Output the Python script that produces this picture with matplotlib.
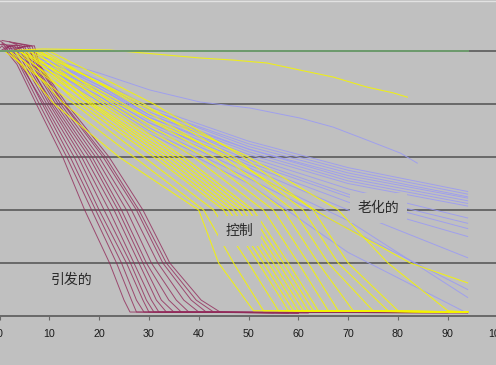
import matplotlib
matplotlib.use("Agg")
import matplotlib.pyplot as plt

# ---------------- data ----------------
x_ticks = [0, 10, 20, 30, 40, 50, 60, 70, 80, 90, 100]
grid_levels = [20, 40, 60, 80, 100]

# induced (maroon): x at shared y-levels, last value = end of bottom tail
induced_y = [102, 95, 80, 60, 40, 20, 6, 1.5, 1.2]
induced_x = [
    [0.5, 3.5, 7.4, 12.7, 17.1, 22.1, 25.0, 26.2, 60],
    [1.0, 4.0, 8.0, 13.5, 18.5, 23.5, 26.5, 27.5, 58],
    [2.0, 4.5, 8.6, 14.2, 19.3, 24.5, 27.5, 29.0, 62],
    [1.5, 4.2, 9.0, 15.0, 20.0, 25.5, 28.8, 30.0, 55],
    [3.0, 5.0, 9.5, 15.8, 21.0, 26.3, 29.5, 31.0, 60],
    [2.5, 5.5, 10.0, 16.5, 22.0, 27.0, 30.5, 32.0, 94],
    [4.0, 6.0, 10.4, 17.2, 23.0, 28.0, 31.5, 33.5, 60],
    [3.5, 5.8, 10.8, 18.0, 23.8, 28.8, 32.5, 35.0, 58],
    [5.0, 6.5, 11.3, 18.6, 24.5, 29.5, 34.0, 36.5, 62],
    [4.5, 6.8, 11.8, 19.3, 25.5, 30.5, 35.5, 38.0, 60],
    [6.0, 7.0, 12.3, 20.0, 26.5, 31.8, 37.0, 40.0, 94],
    [5.5, 7.5, 12.8, 20.8, 27.5, 32.8, 38.5, 41.5, 60],
    [7.0, 8.0, 13.5, 22.0, 28.8, 34.2, 40.5, 44.3, 60],
    [6.5, 7.8, 13.0, 21.3, 28.0, 33.5, 39.5, 43.0, 90],
]
# starting wiggle of each induced line (x, y) before the shared levels
induced_start_x = [0, 0.5, 1, 0, 1.5, 0.5, 2, 1, 2.5, 0, 3, 1.5, 2, 0.5]
induced_start_y = [101, 103, 100, 104, 102, 100.5, 103.5, 101.5, 100, 102.5, 103, 99.5, 101, 104]

# control (yellow): x at shared y-levels, tail to x=94
control_y = [100, 80, 60, 40, 20, 2, 1.5]
control_x = [
    [2, 11, 24, 40, 44, 51, 94],
    [3, 13, 27, 41, 47, 53, 94],
    [1, 15, 29, 43, 50, 56, 94],
    [4, 16, 31, 45, 52, 58, 94],
    [2, 17, 32, 46, 53, 59, 94],
    [5, 18, 33, 47, 54, 60, 94],
    [3, 18.5, 34, 48, 55, 61, 94],
    [6, 19, 35, 49, 56, 62, 94],
    [4, 20, 36, 50, 57, 63, 94],
    [7, 21, 37, 51, 58, 64, 94],
    [5, 22, 39, 53, 60, 66, 94],
    [8, 23, 41, 55, 62, 68, 94],
    [6, 25, 43, 57, 64, 71, 94],
    [9, 27, 45, 59, 66, 75, 94],
    [7, 29, 47, 61, 68, 78, 94],
    [10, 31, 49, 63, 70, 80, 94],
    [8, 28, 50, 68, 78, 90, 94],
]
control_long_x = [4, 24, 46, 66, 82.5, 94]
control_long_y = [100, 80, 60, 37, 20, 12.5]
control_top_x = [0, 8.7, 22.1, 33.6, 40.2, 46.9, 53.7, 60.4, 67, 73.8, 79.1, 81.9]
control_top_y = [100, 100.8, 100.4, 98.5, 97.4, 96.6, 95.5, 92.8, 90.2, 86.4, 84.2, 82.6]

# aged (lavender): y at shared x-positions
aged_x = [2, 10, 20, 30, 50, 70, 94]
aged_y = [
    [100, 97, 89, 79, 66, 56, 47],
    [100, 97, 88, 78, 65, 55, 46],
    [101, 96, 88, 78, 64, 54, 45],
    [100, 96, 87, 77, 63, 53, 44.5],
    [99, 96, 87, 76, 63, 52, 43.5],
    [100, 95, 86, 76, 62, 51, 42.5],
    [100, 95, 86, 75, 61, 50, 41.5],
    [99, 95, 85, 75, 60, 48, 37],
    [100, 94, 85, 74, 59, 46, 35],
    [100, 94, 84, 73, 58, 45, 33],
    [99, 94, 84, 73, 57, 43, 30],
    [100, 93, 83, 72, 56, 40, 22],
    [100, 93, 83, 71, 54, 36, 7],
    [99, 93, 82, 70, 52, 33, 10],
    [100, 92, 81, 69, 50, 24, 1],
]
aged_top_x = [0, 6.7, 20, 30.2, 40.2, 50.3, 60.4, 67, 73.8, 80.5, 83.9]
aged_top_y = [100, 99, 91.7, 85.3, 80.8, 78.5, 74.7, 71.3, 66.4, 61.5, 57.7]

green_x = [0, 94]
green_y = [100, 100]

labels = [("老化的", 76.1, 40.8), ("控制", 48.1, 32.1), ("引发的", 14.5, 13.6)]

# ---------------- drawing ----------------
BG = "#C0C0C0"
W, H = 496, 365
fig = plt.figure(figsize=(W / 100, H / 100), dpi=100, facecolor=BG)
ax = fig.add_axes([-0.5 / W, (H - 316) / H, 498 / W, (316 - 1) / H])
ax.set_facecolor(BG)
ax.set_xlim(0, 100)
ax.set_ylim(0, 118.9)

for g in grid_levels:
    ax.axhline(g, color="#686868", lw=1.4, zorder=1)

lav = "#9C9CF2"
for ys in aged_y:
    ax.plot(aged_x, ys, color=lav, lw=0.7, alpha=0.9, zorder=2)
ax.plot(aged_top_x, aged_top_y, color=lav, lw=0.7, alpha=0.9, zorder=2)

mar = "#922A5A"
for xs, sx, sy in zip(induced_x, induced_start_x, induced_start_y):
    ax.plot([sx] + xs, [sy] + induced_y, color=mar, lw=0.7, alpha=0.8, zorder=3)

yel = "#F5F500"
for xs in control_x:
    ax.plot(xs, control_y, color=yel, lw=0.8, alpha=0.85, zorder=4)
ax.plot(control_long_x, control_long_y, color=yel, lw=0.8, alpha=0.85, zorder=4)
ax.plot(control_top_x, control_top_y, color=yel, lw=0.8, alpha=0.85, zorder=4)

ax.plot(green_x, green_y, color="#6E9C6E", lw=1.4, zorder=5)

for txt, x, y in labels:
    ax.text(x, y, txt, fontsize=10, color="#2a2a2a", ha="center", va="center",
            family=["Noto Sans CJK SC", "DejaVu Sans"], zorder=6,
            bbox=dict(boxstyle="square,pad=0.55", fc=BG, ec="none"))

for s in ["left", "right"]:
    ax.spines[s].set_visible(False)
ax.spines["top"].set_color("#E2E2E2")
ax.spines["top"].set_linewidth(1.0)
ax.spines["bottom"].set_color("#686868")
ax.spines["bottom"].set_linewidth(1.4)
ax.set_yticks([])
ax.set_xticks(x_ticks)
ax.set_xticklabels([str(t) for t in x_ticks])
ax.tick_params(axis="x", direction="out", length=3, width=0.8, color="#686868",
               labelsize=7.7, labelcolor="#1a1a1a", pad=6.5)
for lbl in ax.get_xticklabels():
    lbl.set_family(["Liberation Sans", "DejaVu Sans"])

fig.savefig("out.png", dpi=100, facecolor=BG)
